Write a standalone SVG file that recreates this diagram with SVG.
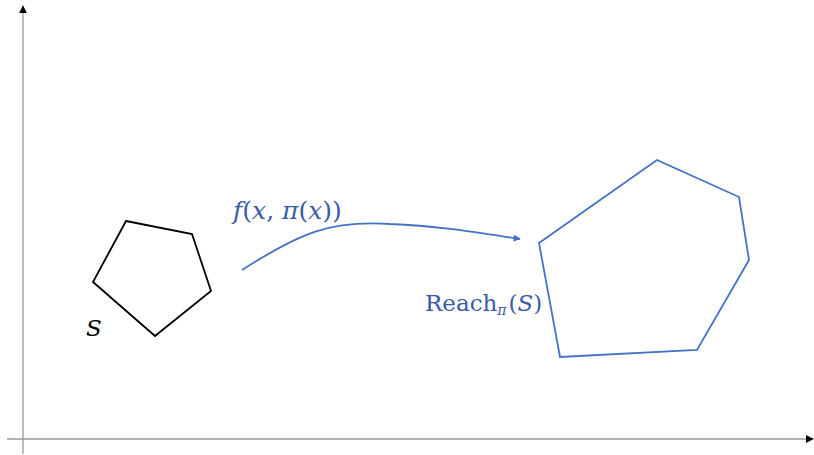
<svg xmlns="http://www.w3.org/2000/svg" width="814" height="455" viewBox="0 0 814 455">
<style>
.axis{stroke:#9a9a9a;stroke-width:1.3;fill:none}
.blk{stroke:#000;stroke-width:1.8;fill:none;stroke-linejoin:miter}
.blu{stroke:#4472C4;stroke-width:1.8;fill:none;stroke-linejoin:miter}
.lbl{font-family:"DejaVu Serif","Liberation Serif",serif;fill:#3B5BA5}
</style>
<defs>
<marker id="ah" viewBox="0 0 10 10" refX="9" refY="5" markerWidth="8" markerHeight="8" markerUnits="userSpaceOnUse" orient="auto">
<path d="M0,0 L10,5 L0,10 Z" fill="#000"/>
</marker>
<marker id="bh" viewBox="0 0 10 10" refX="9" refY="5" markerWidth="9" markerHeight="7" markerUnits="userSpaceOnUse" orient="auto">
<path d="M0,0 L10,5 L0,10 Z" fill="#4472C4"/>
</marker>
</defs>
<g id="axes">
<line class="axis" x1="23" y1="454" x2="23" y2="6" marker-end="url(#ah)"/>
<line class="axis" x1="7" y1="439" x2="813" y2="439" marker-end="url(#ah)"/>
</g>
<g id="setS">
<polygon class="blk" points="126,221 192,234 211,291 155,336 93,282"/>
<text x="86" y="336" font-family="DejaVu Serif, serif" font-style="italic" font-size="23" fill="#000">S</text>
</g>
<g id="reach">
<polygon class="blu" points="539,243 657,160 739,197 749,260 697,350 560,357"/>
<text class="lbl" x="425" y="311" font-size="23">Reach<tspan font-size="14" font-style="italic" dy="4">π</tspan><tspan dy="-4" dx="2">(</tspan><tspan font-style="italic">S</tspan>)</text>
</g>
<g id="connectors">
<path class="blu" stroke-width="1.5" d="M242,270 C300,233 330,220 390,224 C440,226 480,233 520,239" marker-end="url(#bh)"/>
<text class="lbl" x="233" y="219" font-size="25"><tspan font-style="italic">f</tspan>(<tspan font-style="italic">x</tspan>, <tspan font-style="italic">π</tspan>(<tspan font-style="italic">x</tspan>))</text>
</g>
</svg>
